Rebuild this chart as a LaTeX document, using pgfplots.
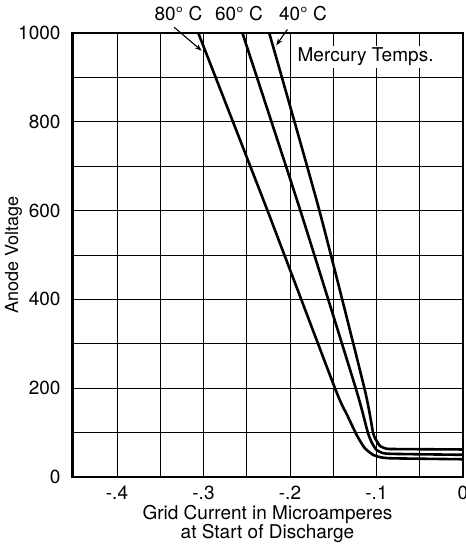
\documentclass[border=0pt]{standalone}
\usepackage{fontspec}
\setmainfont{TeX Gyre Heros}
\usepackage{pgfplots}
\pgfplotsset{compat=1.18}
\usetikzlibrary{arrows.meta}
\begin{document}
\fontsize{19}{20}\selectfont
\begin{tikzpicture}
\begin{axis}[
 scale only axis, width=391pt, height=444pt,
 xmin=-0.452, xmax=0, ymin=0, ymax=1000,
 xtick={-0.4,-0.3,-0.2,-0.1,0}, xticklabels={-.4,-.3,-.2,-.1,0},
 minor xtick={-0.45,-0.35,-0.25,-0.15,-0.05},
 ytick={0,200,400,600,800,1000}, minor ytick={100,300,500,700,900},
 grid=both, grid style={black, line width=0.9pt}, minor grid style={black, line width=0.9pt},
 major tick length=0pt, minor tick length=0pt,
 axis line style={line width=1.6pt},
 tick label style={font=\fontsize{19}{20}\selectfont},
 /pgf/number format/assume math mode=true,
 /pgf/number format/1000 sep={},
 xticklabel style={yshift=-2pt},
 yticklabel style={xshift=-5pt},
 xlabel={Grid Current in Microamperes\\at Start of Discharge},
 xlabel style={align=center, font=\fontsize{19}{18}\selectfont, yshift=7pt},
 ylabel={Anode Voltage},
 ylabel style={font=\fontsize{18}{19}\selectfont, at={(axis description cs:0,0.5)}, anchor=center, yshift=58.5pt},
 clip=false,
]
\addplot[black, line width=2.6pt, smooth, tension=0.35] coordinates {
(-0.306,1000) (-0.226,600) (-0.148,200) (-0.134,140) (-0.123,95) (-0.114,66) (-0.104,50) (-0.094,44) (-0.08,42) (0,40)};
\addplot[black, line width=2.6pt, smooth, tension=0.35] coordinates {
(-0.255,1000) (-0.188,600) (-0.124,200) (-0.110,100) (-0.105,76) (-0.100,61) (-0.093,54) (-0.08,52) (0,50)};
\addplot[black, line width=2.6pt, smooth, tension=0.35] coordinates {
(-0.224,1000) (-0.166,600) (-0.114,200) (-0.104,100) (-0.100,82) (-0.096,70) (-0.089,64) (-0.08,63) (0,62)};
\node[font=\fontsize{19}{20}\selectfont] at (axis cs:-0.329,1043) {80° C};
\node[font=\fontsize{19}{20}\selectfont] at (axis cs:-0.259,1043) {60° C};
\node[font=\fontsize{19}{20}\selectfont] at (axis cs:-0.185,1043) {40° C};
\draw[line width=1.1pt, -{Stealth[length=7pt,width=5pt]}] (axis cs:-0.334,1013) -- (axis cs:-0.302,960);
\draw[line width=1.1pt, -{Stealth[length=7pt,width=5pt]}] (axis cs:-0.203,1008) -- (axis cs:-0.216,972);
\node[fill=white, inner sep=2pt, font=\fontsize{19}{20}\selectfont] at (axis cs:-0.1126,947) {Mercury Temps.};
\end{axis}
\pgfresetboundingbox
\path (current axis.south west) ++(-72pt,-67pt) coordinate (bl);
\path (current axis.north east) ++(2pt,33pt) coordinate (tr);
\path (bl) rectangle (tr);
\end{tikzpicture}
\end{document}
